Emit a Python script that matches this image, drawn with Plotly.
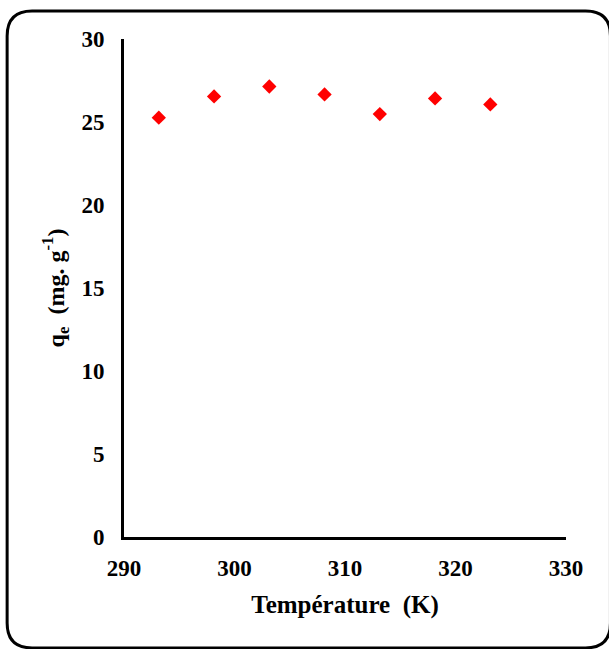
import plotly.graph_objects as go

# Equilibrium adsorption capacity versus temperature
temperature_k = [293.15, 298.15, 303.15, 308.15, 313.15, 318.15, 323.15]
qe_mg_g = [25.26, 26.54, 27.14, 26.66, 25.48, 26.42, 26.06]

x_ticks = [290, 300, 310, 320, 330]
y_ticks = [0, 5, 10, 15, 20, 25, 30]

W, H = 609, 649
ML, MR, MT, MB = 123.5, 43, 39, 111.5
PW, PH = W - ML - MR, H - MT - MB

FONT = "Liberation Serif, Times New Roman, serif"


def px_to_paper(px, py):
    return (px - ML) / PW, (H - MB - py) / PH


def rounded_rect_path(left, top, right, bottom, r):
    pts = {
        "a": px_to_paper(left + r, top),
        "b": px_to_paper(right - r, top),
        "c": px_to_paper(right, top),
        "d": px_to_paper(right, top + r),
        "e": px_to_paper(right, bottom - r),
        "f": px_to_paper(right, bottom),
        "g": px_to_paper(right - r, bottom),
        "h": px_to_paper(left + r, bottom),
        "i": px_to_paper(left, bottom),
        "j": px_to_paper(left, bottom - r),
        "k": px_to_paper(left, top + r),
        "l": px_to_paper(left, top),
    }
    p = lambda k: f"{pts[k][0]:.5f},{pts[k][1]:.5f}"
    return (f"M{p('a')} L{p('b')} Q{p('c')} {p('d')} L{p('e')} Q{p('f')} {p('g')} "
            f"L{p('h')} Q{p('i')} {p('j')} L{p('k')} Q{p('l')} {p('a')} Z")


fig = go.Figure(
    go.Scatter(
        x=temperature_k,
        y=qe_mg_g,
        mode="markers",
        marker=dict(symbol="diamond", size=11, color="#ff0000", line=dict(width=0)),
        showlegend=False,
    )
)

fig.update_layout(
    width=W,
    height=H,
    margin=dict(l=ML, r=MR, t=MT, b=MB, pad=0),
    paper_bgcolor="white",
    plot_bgcolor="white",
    font=dict(family=FONT, color="black"),
    xaxis=dict(
        range=[290, 330],
        tickvals=x_ticks,
        ticktext=[f"<b>{v}</b>" for v in x_ticks],
        showgrid=False,
        zeroline=False,
        showline=True,
        linecolor="black",
        linewidth=3,
        ticks="",
        ticklabelstandoff=8,
        tickfont=dict(family=FONT, size=23, color="black"),
        title=dict(
            text="<b>Température  (K)</b>",
            font=dict(family=FONT, size=25, color="black"),
            standoff=16,
        ),
    ),
    yaxis=dict(
        range=[0, 30],
        tickvals=y_ticks,
        ticktext=[f"<b>{v}</b>" for v in y_ticks],
        showgrid=False,
        zeroline=False,
        showline=True,
        linecolor="black",
        linewidth=3,
        ticks="",
        ticklabelstandoff=12,
        tickfont=dict(family=FONT, size=23, color="black"),
        title=dict(
            text="<b>q<sub>e</sub>  (mg. g<sup>-1</sup>)</b>",
            font=dict(family=FONT, size=24, color="black"),
            standoff=11,
        ),
    ),
    shapes=[
        dict(
            type="path",
            xref="paper",
            yref="paper",
            path=rounded_rect_path(6.5, 11, 610.5, 648.5, 25),
            line=dict(color="black", width=3),
            fillcolor="rgba(0,0,0,0)",
            layer="above",
        )
    ],
)

fig.write_html("out.html")
